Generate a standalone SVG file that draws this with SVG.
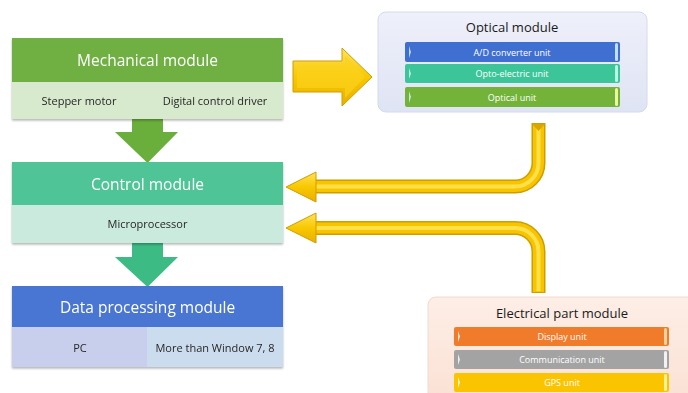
<svg xmlns="http://www.w3.org/2000/svg" width="688" height="393" viewBox="0 0 688 393">
  <style>
    .hdr { font-family: "Open Sans", "Noto Sans", sans-serif; font-size: 15.5px; fill: #ffffff; text-anchor: middle; }
    .cell { font-family: "Open Sans", "Noto Sans", sans-serif; font-size: 11px; fill: #262626; text-anchor: middle; }
    .ptitle { font-family: "Open Sans", "Noto Sans", sans-serif; font-size: 13px; fill: #1a1a1a; text-anchor: middle; }
    .bar { font-family: "Open Sans", "Noto Sans", sans-serif; font-size: 9px; fill: #ffffff; text-anchor: middle; }
    .tube-o { fill: none; stroke: #d09d00; stroke-width: 14; }
    .tube-i { fill: none; stroke: #f6c500; stroke-width: 11; }
    .tube-h { fill: none; stroke: #ffe04a; stroke-width: 4; }
    .ahead { fill: url(#gold); stroke: #d09d00; stroke-width: 1; stroke-linejoin: round; }
  </style>
  <defs>
    <filter id="sh" x="-5%" y="-5%" width="110%" height="120%">
      <feDropShadow dx="0" dy="1.5" stdDeviation="1.2" flood-color="#000" flood-opacity="0.3"/>
    </filter>
    <linearGradient id="gold" x1="0" y1="0" x2="0" y2="1">
      <stop offset="0" stop-color="#ffe25a"/>
      <stop offset="0.5" stop-color="#f8c800"/>
      <stop offset="1" stop-color="#e8b000"/>
    </linearGradient>
    <linearGradient id="optBg" x1="0" y1="0" x2="0" y2="1">
      <stop offset="0" stop-color="#eef0fa"/>
      <stop offset="1" stop-color="#dfe4f4"/>
    </linearGradient>
    <linearGradient id="elBg" x1="0" y1="0" x2="0" y2="1">
      <stop offset="0" stop-color="#fdeee6"/>
      <stop offset="1" stop-color="#fbe0d3"/>
    </linearGradient>
  </defs>

  <!-- connectors -->
  <g id="connectors">
    <!-- block arrows between modules -->
    <polygon points="132,119 163,119 163,132 178,132 147.5,163 115,132 132,132" fill="#6aae3c"/>
    <polygon points="132,243 163,243 163,257 178,257 147.5,287 115,257 132,257" fill="#3dbb85"/>

    <!-- mechanical to optical -->
    <polygon class="ahead" points="293,61 342,61 342,48 372,77 342,106 342,92 293,92"/>
    <polygon points="297,65 345,65 345,56 365,77 345,98 345,88 297,88" fill="#fbd21c" opacity="0.7"/>

    <!-- optical to control -->
    <path class="tube-o" d="M538.5,123 V163 A23.5,23.5 0 0 1 515,186.5 H312"/>
    <path class="tube-i" d="M538.5,124 V163 A23.5,23.5 0 0 1 515,186.5 H312"/>
    <path class="tube-h" d="M538.5,125 V163 A23.5,23.5 0 0 1 515,186.5 H312"/>
    <polygon points="532,124 545,124 538.5,131" fill="#d9a600"/>
    <polygon class="ahead" points="316,172 316,202 286,187"/>

    <!-- electrical to control -->
    <path class="tube-o" d="M538.5,293 V251.5 A23.5,23.5 0 0 0 515,228 H312"/>
    <path class="tube-i" d="M538.5,292 V251.5 A23.5,23.5 0 0 0 515,228 H312"/>
    <path class="tube-h" d="M538.5,291 V251.5 A23.5,23.5 0 0 0 515,228 H312"/>
    <polygon class="ahead" points="316,213 316,243 286,228"/>
  </g>

  <!-- mechanical module -->
  <g id="mechanical" filter="url(#sh)">
    <rect x="12" y="38" width="271" height="44" fill="#6fb043"/>
    <rect x="12" y="82" width="271" height="37" fill="#d8eacd"/>
    <text class="hdr" x="147.5" y="66">Mechanical module</text>
    <text class="cell" x="79" y="105">Stepper motor</text>
    <text class="cell" x="215" y="105">Digital control driver</text>
  </g>

  <!-- control module -->
  <g id="control" filter="url(#sh)">
    <rect x="12" y="162" width="271" height="43" fill="#4fc597"/>
    <rect x="12" y="205" width="271" height="38" fill="#c9eadd"/>
    <text class="hdr" x="147.5" y="190">Control module</text>
    <text class="cell" x="147.5" y="228">Microprocessor</text>
  </g>

  <!-- data processing module -->
  <g id="data" filter="url(#sh)">
    <rect x="12" y="286" width="271" height="41" fill="#4a76d2"/>
    <rect x="12" y="327" width="135" height="40" fill="#c8cfec"/>
    <rect x="147" y="327" width="136" height="40" fill="#ccdcef"/>
    <text class="hdr" x="147.5" y="313">Data processing module</text>
    <text class="cell" x="80" y="352">PC</text>
    <text class="cell" x="215" y="352">More than Window 7, 8</text>
  </g>

  <!-- optical module -->
  <g id="optical">
    <rect x="378" y="12" width="269" height="100" rx="8" fill="url(#optBg)" stroke="#d4daee" stroke-width="1"/>
    <text class="ptitle" x="512" y="32">Optical module</text>
    <rect x="405" y="42" width="215" height="20" rx="2" fill="#3f6fd1"/>
    <rect x="405" y="64" width="215" height="19" rx="2" fill="#3cc598"/>
    <rect x="405" y="87" width="215" height="20" rx="2" fill="#73b33a"/>
    <path d="M409,46 l2,6 l-2,6 z M409,68 l2,5.5 l-2,5.5 z M409,91 l2,6 l-2,6 z" fill="#d8f5ff" opacity="0.8"/>
    <rect x="615" y="43" width="3" height="18" rx="1.5" fill="#bfe0ff"/>
    <rect x="615" y="65" width="3" height="17" rx="1.5" fill="#b8ffe6"/>
    <rect x="615" y="88" width="3" height="18" rx="1.5" fill="#eaff9c"/>
    <text class="bar" x="512" y="55.5">A/D converter unit</text>
    <text class="bar" x="512" y="76.5">Opto-electric unit</text>
    <text class="bar" x="512" y="100.5">Optical unit</text>
  </g>

  <!-- electrical part module -->
  <g id="electrical">
    <rect x="428" y="297" width="270" height="110" rx="8" fill="url(#elBg)" stroke="#f4d8cc" stroke-width="1"/>
    <text class="ptitle" x="562" y="318">Electrical part module</text>
    <rect x="454" y="327" width="215" height="19" rx="2" fill="#f07c2b"/>
    <rect x="454" y="350" width="215" height="19" rx="2" fill="#a3a3a3"/>
    <rect x="454" y="373" width="215" height="19" rx="2" fill="#fac500"/>
    <path d="M458,331 l2,5.5 l-2,5.5 z M458,354 l2,5.5 l-2,5.5 z M458,377 l2,5.5 l-2,5.5 z" fill="#ffffff" opacity="0.8"/>
    <rect x="664" y="328" width="3" height="17" rx="1.5" fill="#ffd49a"/>
    <rect x="664" y="351" width="3" height="17" rx="1.5" fill="#f2f2f2"/>
    <rect x="664" y="374" width="3" height="17" rx="1.5" fill="#fff09a"/>
    <text class="bar" x="562" y="340">Display unit</text>
    <text class="bar" x="562" y="363">Communication unit</text>
    <text class="bar" x="562" y="386">GPS unit</text>
  </g>
</svg>
